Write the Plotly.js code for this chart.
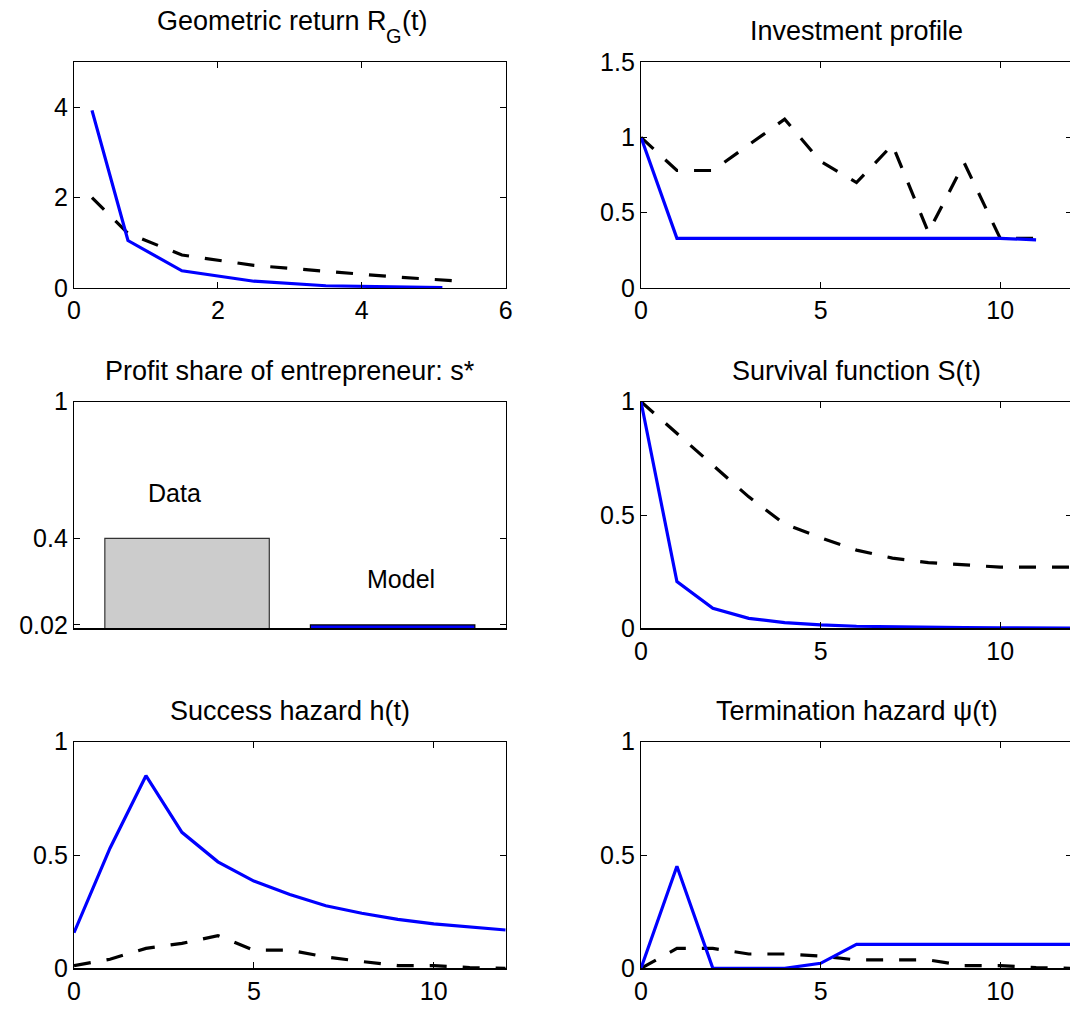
<!DOCTYPE html>
<html>
<head>
<meta charset="utf-8">
<script src="https://cdn.plot.ly/plotly-3.0.1.min.js"></script>
<style>
html,body{margin:0;padding:0;overflow:hidden;background:#fff;}
#chart{width:1072px;height:1011px;}
</style>
</head>
<body>
<div id="chart"></div>
<script>
// ---- Data ----
// Geometric return R_G(t)
const geomModelT = [0.25, 0.75, 1.5, 2.5, 3.5, 4.5, 5.12];
const geomModel  = [3.93, 1.05, 0.38, 0.15, 0.05, 0.02, 0.01];
const geomDataT  = [0.25, 0.75, 1.5, 2.5, 3.5, 4.5, 5.3];
const geomData   = [2.0, 1.21, 0.73, 0.50, 0.37, 0.24, 0.16];

// Investment profile
const invT     = [0, 1, 2, 3, 4, 5, 6, 7, 8, 9, 10, 11];
const invModel = [1, 0.33, 0.33, 0.33, 0.33, 0.33, 0.33, 0.33, 0.33, 0.33, 0.33, 0.32];
const invData  = [1, 0.78, 0.78, 0.95, 1.12, 0.84, 0.70, 0.95, 0.37, 0.83, 0.33, 0.33];

// Profit share of entrepreneur s*
const barCategories = ['Data', 'Model'];
const barValues     = [0.4, 0.02];

// Survival function S(t)
const t12 = [0, 1, 2, 3, 4, 5, 6, 7, 8, 9, 10, 11, 12];
const survModel = [1, 0.206, 0.088, 0.044, 0.025, 0.015, 0.009, 0.006, 0.004, 0.003, 0.002, 0.001, 0.001];
const survData  = [1, 0.86, 0.72, 0.58, 0.46, 0.40, 0.345, 0.31, 0.29, 0.28, 0.27, 0.27, 0.27];

// Success hazard h(t)
const succModel = [0.157, 0.53, 0.85, 0.60, 0.47, 0.385, 0.326, 0.276, 0.243, 0.216, 0.196, 0.181, 0.169];
const succData  = [0.012, 0.04, 0.088, 0.11, 0.144, 0.08, 0.08, 0.05, 0.03, 0.012, 0.012, 0.003, 0.0];

// Termination hazard psi(t)
const termModel = [0, 0.45, 0, 0, 0, 0.022, 0.106, 0.106, 0.106, 0.106, 0.106, 0.106, 0.106];
const termData  = [0, 0.088, 0.088, 0.063, 0.063, 0.054, 0.037, 0.037, 0.037, 0.012, 0.012, 0.003, 0.0];

// Titles: each as [main text, subscript, trailing text]
const titles = [
  ['Geometric return R', 'G', '(t)'],
  ['Investment profile', '', ''],
  ['Profit share of entrepreneur: s*', '', ''],
  ['Survival function S(t)', '', ''],
  ['Success hazard h(t)', '', ''],
  ['Termination hazard \u03c8(t)', '', '']
];

// ---- Layout helpers ----
const W = 1072, H = 1011;
const FONT = 'Liberation Sans, Arial, Helvetica, sans-serif';
const TITLE_SIZE = 27, SUB_SIZE = 20;
const colX = [[74, 505.7], [641, 1072]];
const rowY = [[62, 288], [401.7, 628.3], [741.7, 968.3]];
const dx = c => [colX[c][0] / W, colX[c][1] / W];
const dy = r => [1 - rowY[r][1] / H, 1 - rowY[r][0] / H];

const ctx = document.createElement('canvas').getContext('2d');
function textWidth(t, size) {
  ctx.font = size + 'px "Liberation Sans", Arial, sans-serif';
  return ctx.measureText(t).width;
}

const BLUE = '#0000ff';
const blueLine = {color: BLUE, width: 3.2};
const dashLine = {color: '#000000', width: 3.2, dash: '17px,16px'};

function axBase() {
  return {
    showline: true, linecolor: '#000', linewidth: 1.2, mirror: 'allticks',
    ticks: 'inside', ticklen: 6, tickwidth: 1, tickcolor: '#000',
    showgrid: false, zeroline: false,
    tickfont: {family: FONT, size: 25, color: '#000'},
    fixedrange: true
  };
}

const traces = [];
function line(x, y, i, style) {
  const s = i === 1 ? '' : String(i);
  traces.push({type: 'scatter', mode: 'lines', x: x, y: y, xaxis: 'x' + s, yaxis: 'y' + s,
    line: style, hoverinfo: 'skip', showlegend: false, cliponaxis: true});
}

line(geomDataT, geomData, 1, dashLine);
line(geomModelT, geomModel, 1, blueLine);
line(invT, invData, 2, dashLine);
line(invT, invModel, 2, blueLine);
traces.push({type: 'bar', x: barCategories.map((_, i) => i + 1), y: barValues, width: 0.8,
  xaxis: 'x3', yaxis: 'y3', showlegend: false, hoverinfo: 'skip',
  marker: {color: ['#cccccc', BLUE], line: {color: ['#333333', '#000000'], width: 1.2}}});
line(t12, survData, 4, dashLine);
line(t12, survModel, 4, blueLine);
line(t12, succData, 5, dashLine);
line(t12, succModel, 5, blueLine);
line(t12, termData, 6, dashLine);
line(t12, termModel, 6, blueLine);

const layout = {
  width: W, height: H, margin: {l: 0, r: 0, t: 0, b: 0},
  paper_bgcolor: '#fff', plot_bgcolor: '#fff', showlegend: false,
  font: {family: FONT, size: 25, color: '#000'},
  annotations: []
};

const specs = [
  {c: 0, r: 0, xr: [0, 6], xt: [0, 2, 4, 6], yr: [0, 5], yt: [0, 2, 4]},
  {c: 1, r: 0, xr: [0, 12], xt: [0, 5, 10], yr: [0, 1.5], yt: [0, 0.5, 1, 1.5]},
  {c: 0, r: 1, xr: [0.45, 2.55], xt: [1, 2], yr: [0.005, 1], yt: [0.02, 0.4, 1]},
  {c: 1, r: 1, xr: [0, 12], xt: [0, 5, 10], yr: [0, 1], yt: [0, 0.5, 1]},
  {c: 0, r: 2, xr: [0, 12], xt: [0, 5, 10], yr: [0, 1], yt: [0, 0.5, 1]},
  {c: 1, r: 2, xr: [0, 12], xt: [0, 5, 10], yr: [0, 1], yt: [0, 0.5, 1]}
];

function titleAnn(text, x, y, xshift, yshift, size) {
  return {text: text, xref: 'paper', yref: 'paper', x: x, y: y, xanchor: 'left', yanchor: 'middle',
    xshift: xshift, yshift: yshift, showarrow: false, font: {family: FONT, size: size, color: '#000'}};
}

specs.forEach((sp, k) => {
  const i = k + 1;
  const s = i === 1 ? '' : String(i);
  const xa = Object.assign(axBase(), {domain: dx(sp.c), range: sp.xr, anchor: 'y' + s,
    tickmode: 'array', tickvals: sp.xt, ticktext: sp.xt.map(String)});
  const ya = Object.assign(axBase(), {domain: dy(sp.r), range: sp.yr, anchor: 'x' + s,
    tickmode: 'array', tickvals: sp.yt, ticktext: sp.yt.map(String)});
  if (i === 3) { xa.ticks = ''; xa.mirror = true; xa.showticklabels = false; }
  layout['xaxis' + s] = xa;
  layout['yaxis' + s] = ya;
  const d = dx(sp.c), e = dy(sp.r);
  const cx = (d[0] + d[1]) / 2;
  const [t1, t2, t3] = titles[k];
  const shift = t2 ? 41 : 31;
  if (!t2) {
    layout.annotations.push({text: t1, xref: 'paper', yref: 'paper', x: cx, y: e[1],
      xanchor: 'center', yanchor: 'middle', yshift: shift, showarrow: false,
      font: {family: FONT, size: TITLE_SIZE, color: '#000'}});
  } else {
    const w1 = textWidth(t1, TITLE_SIZE), w2 = textWidth(t2, SUB_SIZE), w3 = textWidth(t3, TITLE_SIZE);
    const left = -(w1 + w2 + w3) / 2;
    layout.annotations.push(titleAnn(t1, cx, e[1], left, shift, TITLE_SIZE));
    layout.annotations.push(titleAnn(t2, cx, e[1], left + w1, shift - 15, SUB_SIZE));
    layout.annotations.push(titleAnn(t3, cx, e[1], left + w1 + w2, shift, TITLE_SIZE));
  }
});

// bar labels
layout.annotations.push({text: barCategories[0], xref: 'x3', yref: 'y3', x: 0.94, y: 0.6,
  showarrow: false, font: {family: FONT, size: 25, color: '#000'}});
layout.annotations.push({text: barCategories[1], xref: 'x3', yref: 'y3', x: 2.04, y: 0.22,
  showarrow: false, font: {family: FONT, size: 25, color: '#000'}});

Plotly.newPlot('chart', traces, layout, {staticPlot: true, displayModeBar: false});
</script>
</body>
</html>
